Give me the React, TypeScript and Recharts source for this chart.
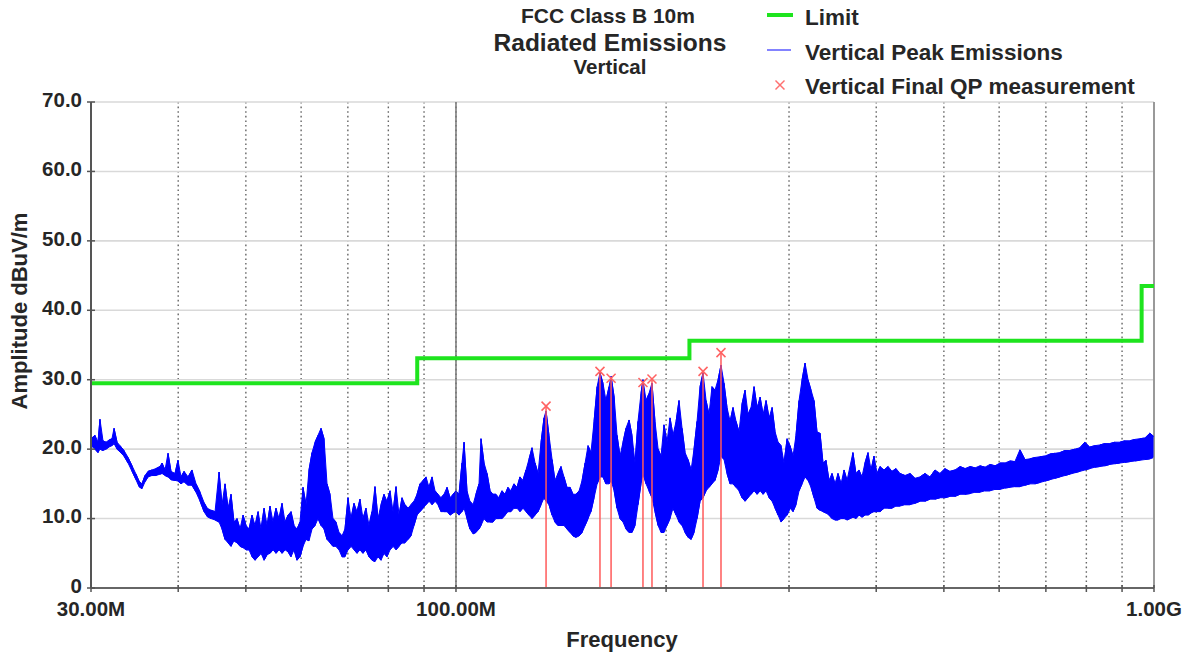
import React from 'react';
import { ComposedChart, Line, Area, Scatter, XAxis, YAxis, CartesianGrid, ReferenceLine } from 'recharts';

const FONT = '"Liberation Sans", Arial, Helvetica, sans-serif';

// Frequency axis (MHz)
const xTicks = [30, 40, 50, 60, 70, 80, 90, 100, 200, 300, 400, 500, 600, 700, 800, 900, 1000];
const xLabelTicks = [30, 100, 1000];
const xLabelText = ['30.00M', '100.00M', '1.00G'];

// Amplitude axis (dBuV/m)
const yMajorTicks = [0, 10, 20, 30, 40, 50, 60, 70];
const yLabelText = ['0', '10.0', '20.0', '30.0', '40.0', '50.0', '60.0', '70.0'];
const yMinorTicks = [0, 2, 4, 6, 8, 10, 12, 14, 16, 18, 20, 22, 24, 26, 28, 30, 32, 34, 36, 38, 40, 42, 44, 46, 48, 50, 52, 54, 56, 58, 60, 62, 64, 66, 68, 70];

// Limit line (step)
const limitFreqs = [30, 88, 88, 216, 216, 960, 960, 1000];
const limitValues = [29.5, 29.5, 33.1, 33.1, 35.6, 35.6, 43.5, 43.5];

// Final QP measurements
const qpFreqs = [134.6, 160.8, 166.8, 185.3, 190.9, 225.9, 239.7];
const qpValues = [26.2, 31.2, 30.2, 29.6, 30.1, 31.2, 33.9];

// Vertical peak emissions: [frequency MHz, low, high]
const peakRows: [number, number, number][] = [
  [30.0, 20.5, 21.5], [30.4, 20.0, 22.0], [30.7, 19.5, 21.0], [30.9, 20.0, 24.3], [31.21, 19.8, 21.2],
  [31.52, 20.0, 21.0], [31.83, 20.3, 21.3], [32.15, 20.5, 21.5], [32.37, 20.8, 23.0], [32.69, 20.0, 21.0],
  [33.01, 19.6, 20.5], [33.45, 19.0, 19.8], [33.9, 18.0, 18.8], [34.35, 16.8, 17.6], [34.8, 15.6, 16.4],
  [35.15, 14.6, 15.4], [35.49, 14.3, 15.0], [35.85, 15.3, 16.2], [36.21, 16.0, 16.8], [36.68, 16.2, 17.0],
  [37.17, 16.2, 17.2], [37.67, 16.4, 17.5], [37.92, 16.5, 18.0], [38.3, 16.2, 17.0], [38.68, 16.0, 19.4],
  [39.06, 15.6, 16.8], [39.58, 15.5, 16.5], [39.97, 15.4, 18.4], [40.37, 15.0, 16.0], [40.78, 15.3, 16.8],
  [41.32, 14.8, 16.0], [41.86, 14.8, 17.0], [42.42, 13.8, 15.0], [42.99, 12.5, 13.8], [43.56, 11.0, 12.3],
  [44.0, 10.3, 11.5], [44.58, 10.0, 11.2], [45.17, 9.8, 11.0], [45.77, 9.5, 16.7], [46.22, 8.5, 12.0],
  [46.68, 7.0, 15.0], [47.15, 6.5, 11.5], [47.61, 6.0, 13.5], [48.08, 6.8, 9.5], [48.56, 6.5, 10.0],
  [49.05, 6.0, 8.5], [49.54, 5.8, 10.5], [50.03, 5.5, 9.0], [50.53, 5.5, 8.5], [51.03, 4.5, 10.5],
  [51.54, 4.0, 9.0], [52.06, 4.5, 11.0], [52.57, 5.0, 8.5], [53.1, 4.0, 11.5], [53.63, 4.8, 9.0],
  [54.15, 5.0, 11.8], [54.69, 5.5, 9.5], [55.23, 5.0, 11.5], [55.78, 5.5, 10.0], [56.34, 5.0, 12.2],
  [56.9, 5.5, 9.5], [57.47, 5.2, 10.5], [58.03, 4.5, 11.0], [58.61, 5.5, 9.0], [59.19, 4.0, 8.5],
  [59.78, 4.5, 9.5], [60.37, 6.0, 14.5], [60.98, 7.0, 12.0], [61.58, 6.8, 17.0], [62.2, 8.5, 19.5],
  [62.82, 9.0, 21.0], [63.45, 10.0, 22.0], [64.07, 9.0, 23.0], [64.71, 8.5, 21.5], [65.35, 7.0, 15.0],
  [66.0, 6.5, 13.5], [66.65, 6.0, 10.0], [67.32, 6.0, 9.5], [67.99, 5.5, 8.0], [68.66, 4.5, 7.5],
  [69.34, 4.5, 8.5], [70.04, 5.5, 13.0], [70.73, 6.0, 10.0], [71.44, 5.5, 12.2], [72.15, 5.0, 11.0],
  [72.86, 5.5, 12.8], [73.58, 5.0, 10.0], [74.32, 5.5, 11.5], [75.05, 4.5, 9.0], [75.8, 4.0, 11.0],
  [76.55, 3.8, 14.6], [77.32, 4.5, 10.0], [78.09, 4.0, 12.0], [78.87, 5.0, 13.5], [79.65, 4.5, 12.5],
  [80.45, 5.5, 14.0], [81.25, 6.0, 11.0], [82.06, 5.5, 14.6], [82.87, 6.0, 10.5], [83.69, 6.5, 13.0],
  [84.52, 6.5, 12.0], [85.37, 7.0, 11.5], [86.21, 7.5, 12.0], [87.07, 9.0, 12.5], [87.94, 10.5, 13.5],
  [88.81, 11.0, 15.0], [89.69, 11.5, 15.5], [90.59, 12.0, 16.0], [91.48, 12.5, 14.5], [92.41, 12.0, 16.0],
  [93.32, 12.5, 14.0], [94.26, 12.0, 13.5], [95.18, 11.0, 13.0], [96.13, 11.0, 13.5], [97.09, 11.0, 14.5],
  [98.05, 10.5, 13.0], [99.02, 10.8, 13.5], [100.0, 11.0, 14.0], [101.0, 10.5, 13.5], [102.0, 11.0, 18.0],
  [102.7, 11.5, 21.0], [103.7, 10.0, 14.0], [104.7, 8.5, 12.5], [105.8, 7.8, 12.0], [106.8, 8.0, 13.5],
  [107.9, 8.5, 15.0], [108.6, 9.0, 21.5], [109.7, 10.0, 18.0], [110.8, 9.5, 16.5], [111.9, 9.5, 14.0],
  [113.0, 9.5, 13.5], [114.1, 10.0, 13.5], [115.2, 10.0, 13.0], [116.4, 10.0, 14.0], [117.6, 10.5, 13.5],
  [118.7, 11.0, 14.5], [119.9, 11.0, 14.0], [121.1, 11.5, 15.0], [122.3, 11.5, 14.5], [123.5, 11.0, 16.0],
  [124.7, 11.5, 15.5], [126.0, 11.0, 17.0], [127.2, 10.5, 18.5], [128.5, 10.0, 20.2], [129.8, 10.5, 18.0],
  [131.1, 11.0, 16.5], [132.4, 12.0, 21.0], [133.7, 13.0, 24.5], [134.6, 12.5, 25.5], [135.9, 12.0, 22.0],
  [137.3, 10.5, 18.5], [138.6, 9.5, 15.5], [140.0, 9.0, 16.5], [141.4, 9.0, 17.5], [142.8, 9.0, 16.0],
  [144.2, 8.5, 14.5], [145.7, 8.0, 14.5], [147.1, 7.5, 13.5], [148.6, 7.3, 13.5], [150.1, 7.5, 14.0],
  [151.6, 8.0, 15.5], [153.1, 9.0, 18.0], [154.6, 10.0, 20.5], [156.1, 11.0, 19.5], [157.7, 13.0, 24.0],
  [159.3, 15.0, 29.0], [160.8, 16.0, 31.0], [162.4, 16.0, 29.5], [164.0, 15.0, 27.0], [165.7, 15.0, 29.0],
  [166.8, 15.5, 30.5], [168.5, 14.0, 27.5], [170.1, 11.5, 22.0], [171.8, 10.0, 19.0], [173.5, 9.5, 21.0],
  [175.2, 8.5, 23.0], [177.0, 8.0, 24.2], [178.7, 8.0, 22.0], [180.5, 9.0, 18.0], [182.3, 12.0, 24.0],
  [184.1, 15.0, 28.0], [185.3, 16.5, 30.0], [187.2, 15.0, 27.0], [189.0, 14.0, 28.0], [190.9, 13.0, 29.5],
  [192.8, 11.0, 24.0], [194.8, 9.0, 20.0], [196.7, 8.0, 19.0], [198.6, 8.0, 23.5], [200.6, 9.0, 21.0],
  [202.6, 10.0, 24.5], [204.6, 11.5, 22.0], [206.7, 10.5, 24.0], [208.7, 9.5, 27.0], [210.8, 9.0, 23.0],
  [212.9, 8.0, 19.5], [215.0, 7.3, 18.5], [217.2, 7.0, 17.0], [219.3, 8.0, 20.0], [221.5, 10.0, 24.0],
  [223.7, 12.5, 29.0], [225.9, 13.0, 31.0], [228.2, 14.0, 27.0], [230.4, 14.5, 25.0], [232.7, 15.0, 29.0],
  [235.0, 15.5, 28.5], [237.4, 17.0, 30.0], [239.7, 19.0, 32.1], [242.1, 18.5, 29.5], [244.5, 16.5, 26.0],
  [247.0, 15.0, 24.0], [249.4, 15.0, 26.0], [251.9, 14.5, 24.0], [254.4, 14.0, 22.5], [256.9, 13.0, 26.5],
  [259.5, 12.5, 28.5], [262.1, 13.0, 25.0], [264.7, 13.5, 26.0], [267.3, 14.0, 29.0], [270.0, 13.5, 26.0],
  [272.7, 14.0, 27.5], [275.4, 13.5, 25.0], [278.1, 14.0, 27.0], [280.9, 13.0, 24.5], [283.7, 12.5, 26.0],
  [286.5, 11.5, 22.5], [289.4, 10.5, 21.0], [292.2, 9.5, 20.5], [295.1, 10.0, 18.0], [298.1, 10.5, 21.5],
  [301.0, 11.5, 20.5], [304.0, 11.0, 19.0], [307.0, 12.0, 22.0], [310.1, 14.0, 27.0], [313.2, 15.0, 30.0],
  [316.3, 16.0, 32.4], [319.4, 15.5, 30.0], [322.6, 14.5, 28.5], [325.8, 13.0, 27.0], [329.0, 11.5, 22.5],
  [332.3, 11.2, 22.3], [335.6, 11.0, 18.0], [338.9, 10.8, 18.4], [342.3, 10.5, 15.5], [345.7, 10.0, 16.5],
  [349.1, 9.8, 15.0], [352.6, 9.8, 16.5], [356.2, 10.0, 15.0], [359.7, 10.0, 17.0], [363.3, 9.8, 15.5],
  [370.4, 10.2, 19.5], [374.1, 10.0, 16.5], [377.8, 10.5, 17.0], [381.6, 10.2, 16.0], [385.4, 10.5, 18.0],
  [389.3, 10.5, 19.5], [393.2, 10.8, 17.0], [397.1, 11.0, 19.0], [401.1, 11.0, 16.5], [405.1, 11.0, 17.5],
  [410.5, 11.5, 17.0], [416.0, 11.5, 17.5], [421.4, 11.5, 16.8], [427.0, 11.8, 17.2], [432.6, 11.8, 16.5],
  [439.8, 12.0, 16.2], [447.1, 12.0, 16.5], [454.5, 12.2, 15.8], [462.2, 12.5, 16.0], [469.9, 12.5, 16.5],
  [477.7, 12.8, 16.0], [485.6, 12.8, 17.0], [493.7, 13.0, 16.5], [501.9, 13.0, 17.2], [510.2, 13.2, 16.8],
  [518.7, 13.2, 17.0], [527.3, 13.5, 17.5], [536.1, 13.5, 17.2], [545.0, 13.6, 17.5], [554.1, 13.8, 17.3],
  [563.2, 13.8, 17.6], [572.6, 14.0, 17.4], [582.1, 14.0, 17.8], [591.8, 14.2, 17.6], [601.6, 14.2, 18.0],
  [611.6, 14.4, 18.0], [621.7, 14.5, 18.3], [632.0, 14.6, 18.2], [642.6, 14.6, 19.9], [653.3, 14.8, 18.5],
  [664.1, 15.0, 18.6], [675.1, 15.0, 18.8], [686.4, 15.2, 18.9], [697.8, 15.4, 19.0], [709.3, 15.6, 19.3],
  [721.1, 15.8, 19.4], [733.1, 16.0, 19.5], [745.3, 16.2, 19.8], [757.7, 16.4, 19.8], [770.3, 16.6, 20.0],
  [783.1, 16.8, 20.2], [796.1, 17.0, 21.0], [809.3, 17.2, 20.3], [822.7, 17.4, 20.5], [836.4, 17.5, 20.6],
  [850.3, 17.6, 20.8], [864.4, 17.8, 20.8], [878.8, 17.9, 21.0], [893.4, 18.0, 21.0], [908.2, 18.1, 21.2],
  [923.3, 18.2, 21.2], [938.6, 18.3, 21.4], [954.2, 18.4, 21.5], [970.1, 18.5, 21.6], [986.2, 18.6, 22.3],
  [1000, 18.8, 21.8],
];

const peakBand = peakRows.map(([f, lo, hi]) => ({ f, r: [lo, hi] }));
const peakTrace = peakRows.flatMap(([f, lo, hi], i) =>
  i % 2 === 0 ? [{ f, v: lo }, { f, v: hi }] : [{ f, v: hi }, { f, v: lo }]
);
const limitData = limitFreqs.map((f, i) => ({ f, v: limitValues[i] }));
const qpData = qpFreqs.map((f, i) => ({ f, v: qpValues[i] }));

const TEXT = '#262626';

const XTick = (props: any) => {
  const { x, y, payload } = props;
  const idx = xLabelTicks.indexOf(payload.value);
  return (
    <g>
      <line x1={x} x2={x} y1={y - 3} y2={y + 4} stroke="#555" strokeWidth={1.5} />
      {idx >= 0 && (
        <text x={x} y={y + 27.5} textAnchor="middle" fontFamily={FONT} fontWeight="bold" fontSize={20.5} fill={TEXT}>
          {xLabelText[idx]}
        </text>
      )}
    </g>
  );
};

const YTick = (props: any) => {
  const { x, y, payload } = props;
  const idx = yMajorTicks.indexOf(payload.value);
  return (
    <g>
      <line x1={x - 4} x2={x + 4} y1={y} y2={y} stroke="#555" strokeWidth={1.5} />
      {idx >= 0 && (
        <text x={x - 9} y={y - 2.5} dy="0.36em" textAnchor="end" fontFamily={FONT} fontWeight="bold" fontSize={20.5} fill={TEXT}>
          {yLabelText[idx]}
        </text>
      )}
    </g>
  );
};

const YMinorTick = (props: any) => {
  const { x, y } = props;
  return <line x1={x} x2={x + 4} y1={y} y2={y} stroke="#555" strokeWidth={1.5} />;
};

const QpMark = (props: any) => {
  const { cx, cy } = props;
  if (cx == null || cy == null) return null;
  const s = 4.5;
  return (
    <g stroke="#ff6262" strokeWidth={1.5}>
      <line x1={cx - s} y1={cy - s} x2={cx + s} y2={cy + s} />
      <line x1={cx - s} y1={cy + s} x2={cx + s} y2={cy - s} />
    </g>
  );
};

export default function App() {
  return (
    <div style={{ position: 'absolute', left: 0, top: 0, width: 1188, height: 655, background: '#fff' }}>
      <ComposedChart width={1188} height={655} margin={{ top: 102, right: 34, bottom: 0, left: 0 }}>
        <CartesianGrid horizontal={false} vertical stroke="#666" strokeWidth={1.4} strokeDasharray="1.6 3" />
        <CartesianGrid vertical={false} horizontal stroke="#d9d9d9" strokeWidth={1.6} />
        <YAxis
          yAxisId="minor"
          type="number"
          domain={[0, 70]}
          ticks={yMinorTicks}
          interval={0}
          width={0}
          axisLine={false}
          tickLine={false}
          tickSize={0}
          tickMargin={0}
          tick={<YMinorTick />}
        />
        <XAxis
          dataKey="f"
          type="number"
          scale="log"
          domain={[30, 1000]}
          allowDataOverflow
          ticks={xTicks}
          interval={0}
          height={67}
          tickSize={0}
          tickMargin={0}
          tickLine={false}
          axisLine={{ stroke: '#666', strokeWidth: 2 }}
          tick={<XTick />}
        />
        <YAxis
          type="number"
          domain={[0, 70]}
          ticks={yMajorTicks}
          interval={0}
          width={91}
          tickSize={0}
          tickMargin={0}
          tickLine={false}
          axisLine={{ stroke: '#555', strokeWidth: 2 }}
          tick={<YTick />}
        />
        <ReferenceLine x={100} stroke="#777" strokeWidth={1.5} />
        <ReferenceLine x={1000} stroke="#999" strokeWidth={2} />
        <Area
          data={peakBand}
          dataKey="r"
          type="linear"
          stroke="#0000ff"
          strokeWidth={1}
          fill="#0000ff"
          fillOpacity={1}
          isAnimationActive={false}
          dot={false}
          activeDot={false}
        />
        <Line
          data={peakTrace}
          dataKey="v"
          type="linear"
          stroke="#0000ff"
          strokeWidth={1}
          dot={false}
          activeDot={false}
          isAnimationActive={false}
        />
        <Line
          data={limitData}
          dataKey="v"
          type="linear"
          stroke="#1ee41e"
          strokeWidth={4}
          dot={false}
          activeDot={false}
          isAnimationActive={false}
        />
        {qpData.map((d) => (
          <ReferenceLine
            key={d.f}
            segment={[{ x: d.f, y: 0 }, { x: d.f, y: d.v }]}
            stroke="#ff5a5a"
            strokeWidth={1.5}
          />
        ))}
        <Scatter data={qpData} dataKey="v" shape={<QpMark />} isAnimationActive={false} />
      </ComposedChart>

      <svg width={1188} height={655} style={{ position: 'absolute', left: 0, top: 0, pointerEvents: 'none' }}>
        <g fontFamily={FONT} fontWeight="bold" fill={TEXT}>
          <text x={608} y={23} textAnchor="middle" fontSize={21}>FCC Class B 10m</text>
          <text x={610} y={51} textAnchor="middle" fontSize={24.5}>Radiated Emissions</text>
          <text x={610} y={74} textAnchor="middle" fontSize={20.5}>Vertical</text>

          <line x1={767} x2={793} y1={15} y2={15} stroke="#1ee41e" strokeWidth={4} />
          <text x={805} y={25} fontSize={22.5}>Limit</text>
          <line x1={767} x2={791} y1={50} y2={50} stroke="#5a5aff" strokeWidth={1.5} />
          <text x={805} y={60} fontSize={22.5}>Vertical Peak Emissions</text>
          <g stroke="#ff7070" strokeWidth={1.5}>
            <line x1={775.5} y1={80.5} x2={784.5} y2={89.5} />
            <line x1={775.5} y1={89.5} x2={784.5} y2={80.5} />
          </g>
          <text x={805} y={94} fontSize={22.5}>Vertical Final QP measurement</text>

          <text x={622} y={647} textAnchor="middle" fontSize={22}>Frequency</text>
          <text x={27} y={311} textAnchor="middle" fontSize={22} transform="rotate(-90 27 311)">Amplitude dBuV/m</text>
        </g>
      </svg>
    </div>
  );
}
